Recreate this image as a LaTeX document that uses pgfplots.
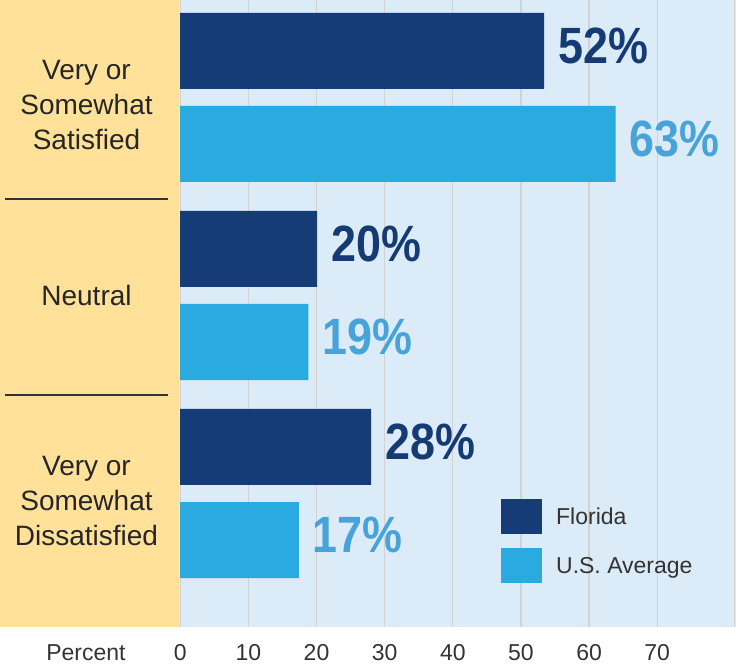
\documentclass[border=0pt]{standalone}
\usepackage{pgfplots}
\pgfplotsset{compat=1.18}
\usepackage{pgfplotstable}
\usepackage{fontspec}
\setmainfont{Liberation Sans}
\newfontfamily\cond[FakeStretch=0.88]{Liberation Sans}
\definecolor{fl}{HTML}{163C78}
\definecolor{us}{HTML}{29AAE1}
\definecolor{uslab}{HTML}{47A3DA}
\definecolor{fllab}{HTML}{163A74}
\definecolor{bgblue}{HTML}{DBEBF7}
\definecolor{panel}{HTML}{FFE19A}
\definecolor{gridc}{HTML}{D2D2D2}
\definecolor{txt}{HTML}{333333}

\pgfplotstableread{
y x lab
2 53.4 52
1 20.1 20
0 28.0 28
}\florida
\pgfplotstableread{
y x lab
2 63.9 63
1 18.8 19
0 17.4 17
}\usavg

\begin{document}
\begin{tikzpicture}
\begin{axis}[name=ax, set layers, scale only axis, width=557pt, height=627pt,
 xmin=-0.18, xmax=81.56, ymin=-0.674, ymax=2.492,
 xbar, bar width=0.384,
 axis background/.style={fill=bgblue},
 axis line style={draw=none}, major tick length=0pt,
 xtick={0,10,...,70}, xmajorgrids, grid style={gridc, line width=1.2pt},
 ytick={0,1,2},
 yticklabels={{\rule{0pt}{35pt}Very or\\Somewhat\\Dissatisfied},{Neutral},{\rule{0pt}{35pt}Very or\\Somewhat\\Satisfied}},
 yticklabel style={anchor=center, xshift=-92.5pt, align=center, font=\fontsize{28}{35}\selectfont, text=black!85},
 xticklabel style={anchor=center, yshift=-26pt, font=\fontsize{23}{26}\selectfont, text=txt},
 /pgf/number format/assume math mode=true,
 clip=false,
 point meta=explicit symbolic,
 nodes near coords={\pgfplotspointmeta\%},
 nodes near coords style={anchor=west, inner sep=0pt, xshift=14pt, yshift=5pt, font=\cond\bfseries\fontsize{51}{51}\selectfont},
 legend style={at={(0.578,0.204)}, anchor=north west, draw=none, fill=none, inner sep=0pt, row sep=14pt, column sep=14pt, font=\fontsize{23}{26}\selectfont, text=txt, nodes={inner sep=0pt}},
 legend cell align=left,
 legend image code/.code={\fill[#1] (0pt,-17.5pt) rectangle (41pt,17.5pt);},
]
\begin{pgfonlayer}{axis background}
\fill[panel] (axis description cs:-0.3214,0) rectangle (axis description cs:0,1);
\end{pgfonlayer}
\addplot[fill=fl, draw=none, bar shift=0.235, every node near coord/.append style={text=fllab}] table[x=x, y=y, meta=lab] {\florida};
\addplot[fill=us, draw=none, bar shift=-0.235, every node near coord/.append style={text=uslab}] table[x=x, y=y, meta=lab] {\usavg};
\legend{Florida, U.S. Average}
\draw[black!80, line width=1.3pt] (axis description cs:-0.3124,0.6826) -- (axis description cs:-0.0197,0.6826);
\draw[black!80, line width=1.3pt] (axis description cs:-0.3124,0.370) -- (axis description cs:-0.0197,0.370);
\draw[gridc, line width=1.2pt] (axis description cs:0.9973,0) -- (axis description cs:0.9973,1);
\node[font=\fontsize{23}{26}\selectfont, text=txt, yshift=-26pt] at (axis description cs:-0.167,0) {Percent};
\end{axis}
\pgfresetboundingbox
\path ([xshift=-179pt,yshift=-39pt]ax.south west) rectangle ([xshift=1pt]ax.north east);
\end{tikzpicture}
\end{document}
